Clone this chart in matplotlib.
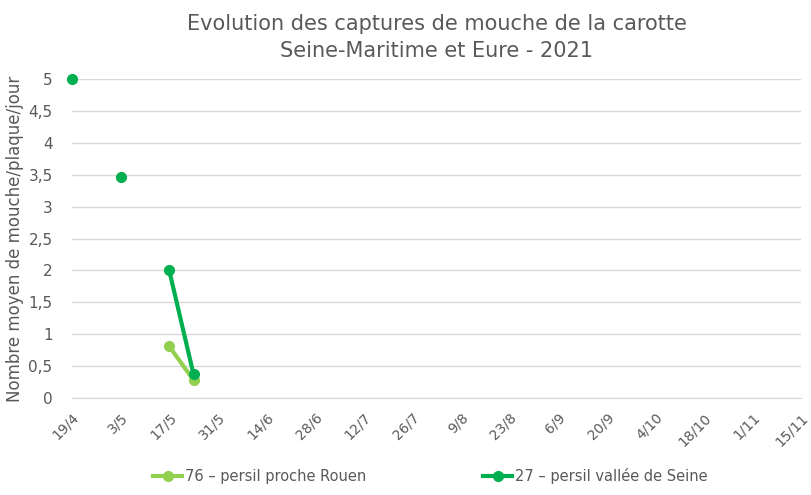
import datetime as dt
import numpy as np
import matplotlib.pyplot as plt
import matplotlib.dates as mdates

dates_76 = [dt.date(2021, 5, 17), dt.date(2021, 5, 24)]
vals_76 = [0.81, 0.28]

dates_27 = [dt.date(2021, 4, 19), dt.date(2021, 4, 26), dt.date(2021, 5, 3),
            dt.date(2021, 5, 10), dt.date(2021, 5, 17), dt.date(2021, 5, 24)]
vals_27 = [5.0, np.nan, 3.47, np.nan, 2.0, 0.37]

start = dt.date(2021, 4, 19)
tick_dates = [start + dt.timedelta(days=14 * i) for i in range(16)]
tick_labels = [f"{d.day}/{d.month}" for d in tick_dates]

grey = "#595959"

fig = plt.figure(figsize=(8.12, 4.95), dpi=100)
ax = fig.add_axes([0.0887, 0.196, 0.898, 0.644])

ax.plot(dates_76, vals_76, color="#92D050", lw=3, marker="o", ms=7,
        label="76 – persil proche Rouen", clip_on=False, zorder=3)
ax.plot(dates_27, vals_27, color="#00B050", lw=3, marker="o", ms=7,
        label="27 – persil vallée de Seine", clip_on=False, zorder=4)

ax.set_xlim(mdates.date2num(tick_dates[0]), mdates.date2num(tick_dates[-1]))
ax.set_ylim(0, 5)
ax.set_xticks(mdates.date2num(tick_dates))
ax.set_xticklabels(tick_labels, rotation=45, ha="right", rotation_mode="anchor",
                   fontsize=10, color=grey)
ax.tick_params(axis="x", length=0, pad=9)
yt = np.arange(0, 5.01, 0.5)
ax.set_yticks(yt)
ax.set_yticklabels([f"{v:g}".replace(".", ",") for v in yt], fontsize=11, color=grey)
ax.tick_params(axis="y", length=0, pad=14)
ax.grid(axis="y", color="#D9D9D9", lw=1)
for s in ["top", "right", "left"]:
    ax.spines[s].set_visible(False)
ax.spines["bottom"].set_color("#D9D9D9")
ax.set_axisbelow(True)

ax.set_ylabel("Nombre moyen de mouche/plaque/jour", fontsize=12, color=grey, labelpad=3)
ax.set_title("Evolution des captures de mouche de la carotte\nSeine-Maritime et Eure - 2021",
             fontsize=15, color=grey, pad=16, linespacing=1.45)

fig.legend(loc="lower center", bbox_to_anchor=(0.53, -0.005), ncol=2, frameon=False,
           fontsize=10.5, labelcolor=grey, columnspacing=8, handlelength=2, handletextpad=0.2)

fig.savefig("out.png", dpi=100)
